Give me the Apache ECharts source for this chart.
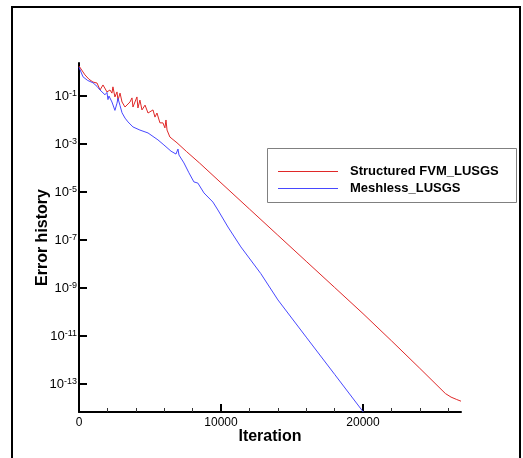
<!DOCTYPE html>
<html>
<head>
<meta charset="utf-8">
<script src="https://cdn.jsdelivr.net/npm/echarts@6/dist/echarts.min.js"></script>
<style>
html,body{margin:0;padding:0;background:#fff;}
#chart{width:523px;height:458px;}
</style>
</head>
<body>
<div id="chart"></div>
<script>
// Series names
const seriesNames = ['Structured FVM_LUSGS', 'Meshless_LUSGS'];

// Structured FVM_LUSGS: iterations and log10(error)
const fvmIter = [0, 70, 420, 700, 985, 1270, 1480, 1690, 1970, 2180, 2320, 2390, 2530, 2675, 2745, 2890, 3030, 3240, 3590, 3730, 3800, 4080, 4150, 4290, 4435, 4650, 4860, 5000, 5210, 5350, 5490, 5700, 5910, 6050, 6125, 6200, 6400, 6900, 7580, 8500, 10000, 12000, 14000, 16000, 18000, 20000, 22000, 24000, 25800, 26200, 26600, 26900];
const fvmLogErr = [0.25, 0.2, -0.12, -0.3, -0.42, -0.46, -0.75, -0.54, -0.83, -0.75, -0.88, -0.62, -1.04, -0.83, -1.17, -0.88, -1.25, -1.46, -1.25, -1.08, -1.46, -1.04, -1.5, -1.17, -1.58, -1.38, -1.71, -1.79, -1.58, -1.88, -1.71, -2.12, -2.12, -2.33, -2.0, -2.42, -2.71, -2.95, -3.32, -3.8, -4.62, -5.71, -6.8, -7.89, -8.98, -10.07, -11.2, -12.35, -13.4, -13.55, -13.65, -13.72];

// Meshless_LUSGS: iterations and log10(error)
const mlIter = [0, 280, 600, 985, 1270, 1480, 1620, 1830, 1970, 2040, 2110, 2320, 2530, 2675, 2745, 2890, 3030, 3240, 3450, 3800, 4290, 4860, 5560, 5980, 6480, 6830, 6970, 7040, 7390, 7740, 8090, 8370, 8800, 9430, 9780, 10490, 11400, 12800, 14010, 16000, 18000, 20020];
const mlLogErr = [0.2, -0.2, -0.35, -0.45, -0.6, -0.75, -0.7, -0.95, -0.85, -1.15, -1.0, -1.25, -1.6, -1.3, -1.1, -1.4, -1.7, -1.92, -2.08, -2.29, -2.42, -2.54, -2.83, -3.04, -3.3, -3.42, -3.21, -3.46, -3.79, -4.2, -4.58, -4.63, -5.04, -5.42, -5.75, -6.46, -7.29, -8.4, -9.5, -11.05, -12.6, -14.17];

// Axis tick positions
const xMajorTicks = [0, 10000, 20000];
const xMinorTicks = [2000, 4000, 6000, 8000, 12000, 14000, 16000, 18000, 22000, 24000, 26000];
const yTickExponents = [-1, -3, -5, -7, -9, -11, -13];

const xMin = 0, xMax = 26900;
const yMinExp = -14.17, yMaxExp = 0.375;

function toPairs(xs, es) {
  return xs.map((x, i) => [x, Math.pow(10, es[i])]);
}

const FONT = "'Liberation Sans', Arial, sans-serif";
const chart = echarts.init(document.getElementById('chart'), null, {renderer: 'canvas'});

const yTickValues = yTickExponents.map(e => Math.pow(10, e));

const option = {
  animation: false,
  backgroundColor: '#ffffff',
  grid: {left: 79, top: 63, right: 62, bottom: 46, containLabel: false},
  legend: {
    orient: 'vertical',
    left: 278,
    top: 165,
    icon: 'rect',
    itemWidth: 60,
    itemHeight: 1,
    itemGap: 4,
    padding: 0,
    data: seriesNames,
    textStyle: {fontFamily: FONT, fontSize: 13, fontWeight: 'bold', color: '#000', padding: [0, 0, 0, 7]}
  },
  graphic: [
    {type: 'rect', shape: {x: 12, y: 7, width: 508, height: 470}, style: {fill: 'none', stroke: '#000', lineWidth: 2}, silent: true, z: 100},
    {type: 'rect', shape: {x: 267.5, y: 148.5, width: 249, height: 54}, style: {fill: 'none', stroke: '#808080', lineWidth: 1}, silent: true, z: 100}
  ],
  xAxis: [
    {
      type: 'value', min: xMin, max: xMax, position: 'bottom',
      name: 'Iteration', nameLocation: 'middle', nameGap: 17, nameMoveOverlap: false,
      nameTextStyle: {fontFamily: FONT, fontSize: 16, fontWeight: 'bold', color: '#000'},
      axisLine: {show: true, lineStyle: {color: '#000', width: 2}},
      axisTick: {show: true, inside: true, length: 8, lineStyle: {color: '#000', width: 2}, customValues: xMajorTicks},
      axisLabel: {show: true, margin: 5, fontFamily: FONT, fontSize: 12, color: '#000', customValues: xMajorTicks,
        formatter: function (v) { return String(v); }},
      splitLine: {show: false}
    },
    {
      type: 'value', min: xMin, max: xMax, position: 'bottom', offset: 0,
      axisLine: {show: false},
      axisTick: {show: true, inside: true, length: 4, lineStyle: {color: '#333', width: 1}, customValues: xMinorTicks},
      axisLabel: {show: false},
      splitLine: {show: false}
    }
  ],
  yAxis: {
    type: 'log', logBase: 10,
    min: Math.pow(10, yMinExp), max: Math.pow(10, yMaxExp),
    name: 'Error history', nameLocation: 'middle', nameRotate: 90, nameGap: 28, nameMoveOverlap: false,
    nameTextStyle: {fontFamily: FONT, fontSize: 16, fontWeight: 'bold', color: '#000'},
    axisLine: {show: true, lineStyle: {color: '#000', width: 2}},
    axisTick: {show: true, inside: true, length: 8, lineStyle: {color: '#000', width: 2}, customValues: yTickValues},
    axisLabel: {
      show: true, margin: 2, customValues: yTickValues,
      formatter: function (v) {
        const e = Math.round(Math.log10(v));
        return '{b|10}{s|' + e + '}';
      },
      rich: {
        b: {fontFamily: FONT, fontSize: 13, color: '#000', lineHeight: 13, verticalAlign: 'bottom'},
        s: {fontFamily: FONT, fontSize: 9, color: '#000', lineHeight: 9, verticalAlign: 'top', padding: [0, 0, 4, 0]}
      }
    },
    splitLine: {show: false},
    minorTick: {show: false}
  },
  series: [
    {
      name: seriesNames[0], type: 'line', xAxisIndex: 0, symbol: 'none', showSymbol: false,
      lineStyle: {color: '#e02828', width: 1}, itemStyle: {color: '#e02828'},
      data: toPairs(fvmIter, fvmLogErr), clip: true
    },
    {
      name: seriesNames[1], type: 'line', xAxisIndex: 0, symbol: 'none', showSymbol: false,
      lineStyle: {color: '#4848ff', width: 1}, itemStyle: {color: '#4848ff'},
      data: toPairs(mlIter, mlLogErr), clip: true
    }
  ]
};
chart.setOption(option);
</script>
</body>
</html>
